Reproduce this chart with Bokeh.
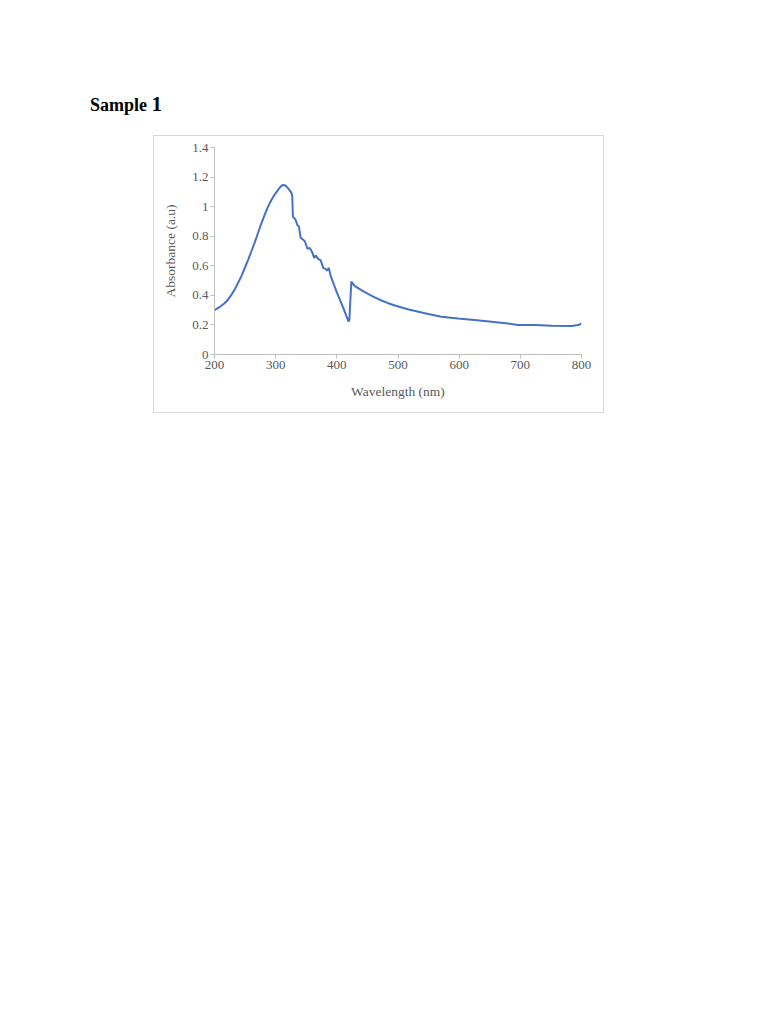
from bokeh.plotting import figure
from bokeh.layouts import column, row
from bokeh.models import Div, Spacer, FixedTicker, CustomJSTickFormatter, Range1d
from bokeh.embed import file_html
from bokeh.resources import INLINE

title_text = "Sample"
title_num = "1"
x_label = "Wavelength (nm)"
y_label = "Absorbance (a.u)"
x_ticks = [200, 300, 400, 500, 600, 700, 800]
y_ticks = [0, 0.2, 0.4, 0.6, 0.8, 1.0, 1.2, 1.4]

wavelength = [200, 208, 216, 222, 227, 233, 238, 244, 249, 255, 260, 266, 271, 276, 282, 287, 293, 298,
              304, 308, 312, 316, 320, 323, 325.5, 327, 328.2, 330, 332.6, 335.4, 338,
              340.8, 343.4, 347.7, 352, 355.8, 359.7, 363, 365.6, 369.5,
              373.8, 377.7, 381.5, 384.2, 386.9, 390, 400, 410, 419.2, 420.5, 423.7, 429, 440, 451,
              462, 473, 484, 495, 516, 544, 571, 598, 625, 653, 680, 696, 724, 751, 784, 795, 800]
absorbance = [0.30, 0.32, 0.345, 0.37, 0.40, 0.44, 0.48, 0.53, 0.58, 0.64, 0.695, 0.76, 0.82, 0.88, 0.944, 0.995, 1.045, 1.08,
              1.113, 1.135, 1.147, 1.143, 1.125, 1.11, 1.095, 1.08, 0.932, 0.925, 0.91, 0.876, 0.866,
              0.79, 0.782, 0.766, 0.715, 0.721, 0.692, 0.654, 0.669, 0.647,
              0.636, 0.586, 0.579, 0.568, 0.586, 0.53, 0.42, 0.32, 0.222, 0.235, 0.493, 0.464, 0.435, 0.41,
              0.386, 0.365, 0.347, 0.331, 0.306, 0.279, 0.256, 0.243, 0.234, 0.222, 0.209, 0.20, 0.20, 0.194, 0.193, 0.199, 0.211]

font = "Liberation Serif"
gray = "#595959"

p = figure(width=451, height=278, output_backend="svg", toolbar_location=None,
           x_range=Range1d(200, 800), y_range=Range1d(0, 1.4),
           min_border_left=60, min_border_right=24, min_border_top=11, min_border_bottom=60,
           styles={"border": "1px solid #d9d9d9"})
p.line(wavelength, absorbance, line_color="#4472C4", line_width=2)

p.grid.visible = False
p.outline_line_color = None
for ax in (p.xaxis[0], p.yaxis[0]):
    ax.axis_line_color = "#bfbfbf"
    ax.major_tick_line_color = "#bfbfbf"
    ax.minor_tick_line_color = None
    ax.major_tick_in = 0
    ax.major_tick_out = 4
    ax.major_label_text_font = font
    ax.major_label_text_color = gray
    ax.major_label_text_font_size = "13px"
    ax.axis_label_text_font = font
    ax.axis_label_text_color = gray
    ax.axis_label_text_font_size = "13.5px"
    ax.axis_label_text_font_style = "normal"

p.xaxis.ticker = FixedTicker(ticks=x_ticks)
p.yaxis.ticker = FixedTicker(ticks=y_ticks)
p.yaxis.formatter = CustomJSTickFormatter(code="return String(Math.round(tick*10)/10);")
p.xaxis.axis_label = x_label
p.yaxis.axis_label = y_label
p.xaxis.major_label_standoff = 2
p.yaxis.major_label_standoff = 2
p.xaxis.axis_label_standoff = 12
p.yaxis.axis_label_standoff = 11

title = Div(text=f'<span style="font-family:\'Liberation Serif\';font-weight:bold;font-size:18px;color:#000">{title_text} <span style="font-size:21px">{title_num}</span></span>',
            width=300, height=30, margin=(0, 0, 0, 90))

layout = column(Spacer(height=89, margin=0), title, Spacer(height=16, margin=0),
                row(Spacer(width=153, margin=0), p), margin=0)

open("out.html", "w").write(file_html(layout, INLINE))
